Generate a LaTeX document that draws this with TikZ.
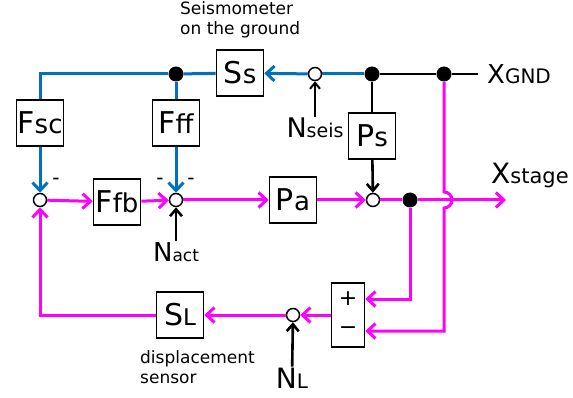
\documentclass[tikz,border=0pt]{standalone}
\usepackage{fontspec}
\setmainfont{DejaVu Sans}
\usetikzlibrary{arrows.meta, positioning, calc}
\definecolor{birusig}{RGB}{0,112,192}
\definecolor{magentasig}{RGB}{255,0,255}
\newcommand{\twosize}[4]{{\fontsize{#1}{#1}\selectfont #3}{\fontsize{#2}{#2}\selectfont #4}}
\newcommand{\blk}[2]{\twosize{30}{26}{#1}{#2}}

\begin{document}
\begin{tikzpicture}[x=1pt, y=-1pt,
    blok/.style={draw, line width=1.6pt, minimum width=47pt, minimum height=46pt, inner sep=0pt},
    sumc/.style={circle, draw, line width=1.5pt, fill=white, minimum size=13pt, inner sep=0pt},
    dot/.style={circle, fill=black, minimum size=15pt, inner sep=0pt},
    msig/.style={line width=3pt, magentasig},
    bsig/.style={line width=3pt, birusig},
    ksig/.style={line width=2.6pt, black},
    tip/.style={-{Straight Barb[length=8pt,width=15pt]}},
    ktip/.style={-{Straight Barb[length=7pt,width=12pt]}},
    note/.style={font=\fontsize{17}{20}\selectfont, align=left},
    minus/.style={font=\fontsize{20}{20}\selectfont},
    sign/.style={font=\fontsize{22}{22}\selectfont, inner sep=0pt}]
    \useasboundingbox[fill=white] (0,0) rectangle (573,398);
    % top row: ground motion and seismometer
    \node[blok] (ss) at (240,73) {\blk{S}{s}};
    \node[dot] (dss) at (176,74) {};
    \node[sumc] (nseis) at (315,74) {};
    \node[dot] (dgnd1) at (372,74) {};
    \node[dot] (dgnd2) at (444,74) {};
    \coordinate (gend) at (478,74);
    \node[anchor=west, inner sep=0pt] (xgnd) at (487,74) {\twosize{26}{20}{X}{GND}};
    \node[note, anchor=north west, inner sep=0pt] (seislbl) at (180,1) {Seismometer\\on the ground};
    \node[inner sep=1pt] (nseislbl) at (315,128) {\twosize{27}{19}{N}{seis}};
    % filters
    \node[blok] (fsc) at (40,123) {\blk{F}{sc}};
    \node[blok] (fff) at (176,123) {\blk{F}{ff}};
    \node[blok] (ps) at (372,136) {\blk{P}{s}};
    % middle row
    \node[sumc] (sum1) at (40,200) {};
    \node[blok] (ffb) at (117,202) {\blk{F}{fb}};
    \node[sumc] (sum2) at (176,200) {};
    \node[blok] (pa) at (293,200) {\blk{P}{a}};
    \node[sumc] (sum3) at (373,200) {};
    \node[dot] (dstage) at (410,200) {};
    \coordinate (xend) at (506,200);
    \coordinate (jump) at (444,200);
    \node[anchor=west, inner sep=0pt] (xstage) at (491,175) {\twosize{28}{21}{X}{stage}};
    \node[inner sep=1pt] (nactlbl) at (176,252) {\twosize{26}{17}{N}{act}};
    \node[minus] at (56,181) {-};
    \node[minus] at (160,181) {-};
    \node[minus] at (191,181) {-};
    % bottom row: displacement sensor
    \node[draw, line width=1.6pt, minimum width=33pt, minimum height=64pt, inner sep=0pt] (pm) at (348,315) {};
    \node[sign] (plus) at (348,299) {+};
    \node[sign] (mins) at (348,331) {−};
    \node[sumc] (suml) at (293,315) {};
    \node[blok] (sl) at (180,315) {\twosize{30}{23}{S}{L}};
    \node[inner sep=1pt] (nllbl) at (292,378) {\twosize{28}{20}{N}{L}};
    \node[note, anchor=north west, inner sep=0pt] (displbl) at (140,350) {displacement\\sensor};

    % connectors
    \draw[bsig] (ss) -- (dss);
    \draw[bsig] (dss) -| (fsc);
    \draw[bsig] (dss) -- (fff);
    \draw[bsig, tip] (fsc) -- (sum1);
    \draw[bsig, tip] (fff) -- (sum2);
    \draw[bsig] (dgnd1) -- (nseis);
    \draw[bsig, tip] (nseis) -- (ss);
    \draw[ksig] (dgnd1) -- (dgnd2);
    \draw[ksig] (dgnd2) -- (gend);
    \draw[line width=2pt, -{Straight Barb[length=6pt,width=10pt]}] (nseislbl) -- (nseis);
    \draw[ksig] (dgnd1) -- (ps);
    \draw[ksig, ktip] (ps) -- (sum3);
    \draw[ksig, ktip] (nactlbl) -- (sum2);
    \draw[ksig, ktip] (nllbl) -- (suml);

    \draw[msig, tip] (sum1) -- (ffb);
    \draw[msig, tip] (ffb) -- (sum2);
    \draw[msig, tip] (sum2) -- (pa);
    \draw[msig, tip] (pa) -- (sum3);
    \draw[msig] (sum3) -- (dstage);
    \draw[msig, tip] (dstage) -- (xend);
    \draw[msig, tip] (dstage) |- (plus -| pm.east);
    \draw[msig, tip] (dgnd2) -- ([yshift=8pt]jump) arc[start angle=90, end angle=-90, radius=8pt] |- (mins -| pm.east);
    \draw[msig, tip] (pm) -- (suml);
    \draw[msig, tip] (suml) -- (sl);
    \draw[msig, tip] (sl) -| (sum1);
\end{tikzpicture}
\end{document}
